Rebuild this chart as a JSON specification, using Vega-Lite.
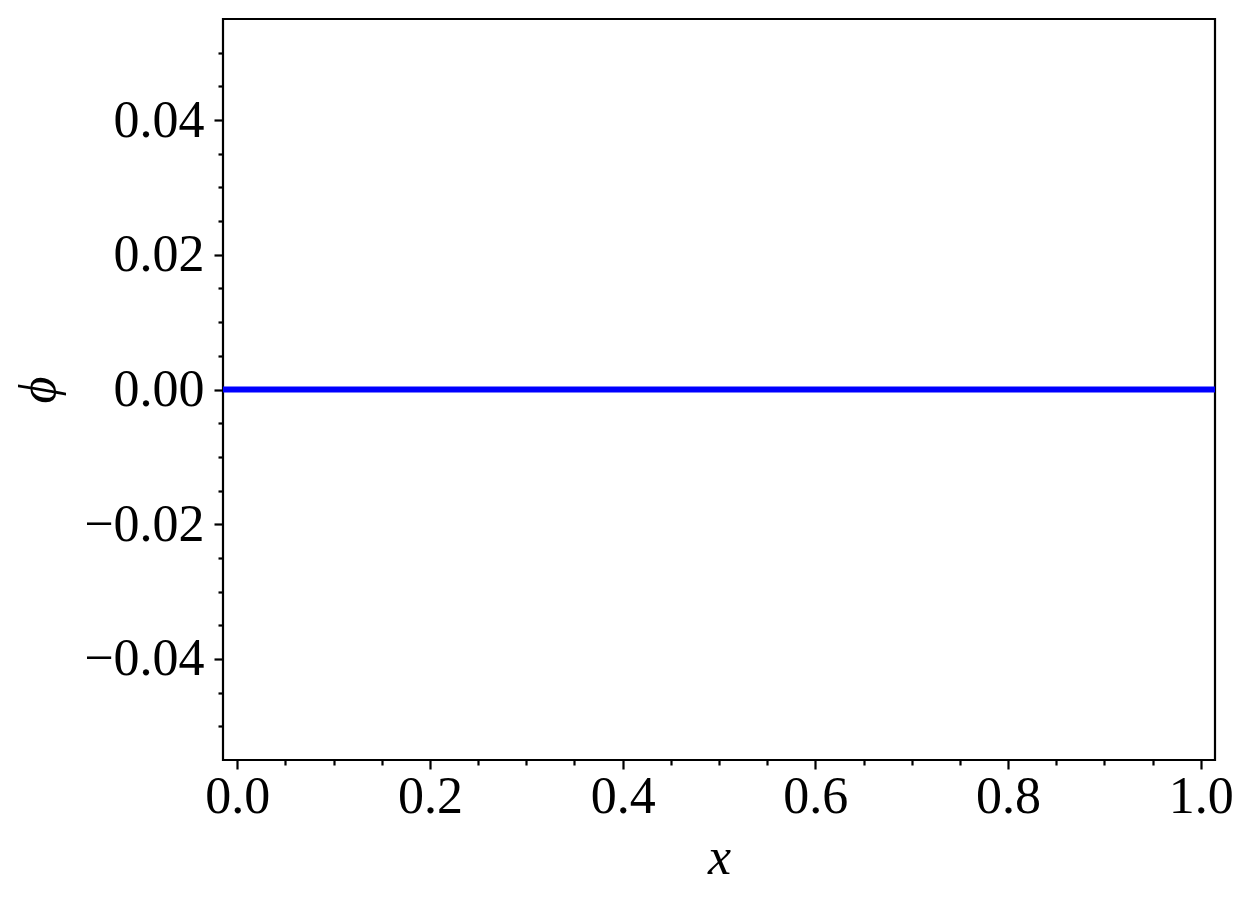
{
  "$schema": "https://vega.github.io/schema/vega-lite/v6.json",
  "autosize": "none",
  "width": 992,
  "height": 741,
  "padding": {"left": 223, "top": 19, "right": 37, "bottom": 150},
  "background": "white",
  "config": {
    "view": {"stroke": "black", "strokeWidth": 2.2},
    "font": "Liberation Serif"
  },
  "data": {"values": [
    {"x": -0.0148, "phi": 0},
    {"x": 1.0148, "phi": 0}
  ]},
  "mark": {"type": "line", "color": "#0000ff", "strokeWidth": 6, "clip": true},
  "encoding": {
    "x": {
      "field": "x", "type": "quantitative",
      "scale": {"domain": [-0.0148, 1.0148], "nice": false, "zero": false},
      "axis": {
        "title": "x", "titleFont": "Liberation Serif", "titleFontStyle": "italic", "titleFontWeight": "normal",
        "titleFontSize": 52, "titlePadding": 10, "titleColor": "black",
        "values": [0, 0.05, 0.1, 0.15, 0.2, 0.25, 0.3, 0.35, 0.4, 0.45, 0.5, 0.55, 0.6, 0.65, 0.7, 0.75, 0.8, 0.85, 0.9, 0.95, 1.0],
        "labelExpr": "abs(datum.value*5 - round(datum.value*5)) < 1e-6 ? format(datum.value, '.1f') : ''",
        "labelFont": "Liberation Serif", "labelFontSize": 52, "labelColor": "black", "labelPadding": 2,
        "labelOverlap": false, "labelFlush": false,
        "domain": false, "grid": false,
        "tickColor": "black", "tickWidth": 2.2,
        "tickSize": {"condition": {"test": "abs(datum.value*5 - round(datum.value*5)) < 1e-6", "value": 9}, "value": 5}
      }
    },
    "y": {
      "field": "phi", "type": "quantitative",
      "scale": {"domain": [-0.055, 0.055], "nice": false, "zero": false},
      "axis": {
        "title": "ϕ", "titleFont": "Liberation Serif", "titleFontStyle": "italic", "titleFontWeight": "normal",
        "titleFontSize": 52, "titlePadding": 18, "titleColor": "black",
        "values": [-0.05, -0.045, -0.04, -0.035, -0.03, -0.025, -0.02, -0.015, -0.01, -0.005, 0, 0.005, 0.01, 0.015, 0.02, 0.025, 0.03, 0.035, 0.04, 0.045, 0.05],
        "labelExpr": "abs(datum.value*50 - round(datum.value*50)) < 1e-6 ? replace(format(datum.value, '.2f'), '-', '−') : ''",
        "labelFont": "Liberation Serif", "labelFontSize": 52, "labelColor": "black", "labelPadding": 10,
        "labelOverlap": false, "labelFlush": false,
        "domain": false, "grid": false,
        "tickColor": "black", "tickWidth": 2.2,
        "tickSize": {"condition": {"test": "abs(datum.value*50 - round(datum.value*50)) < 1e-6", "value": 9}, "value": 5}
      }
    }
  }
}
